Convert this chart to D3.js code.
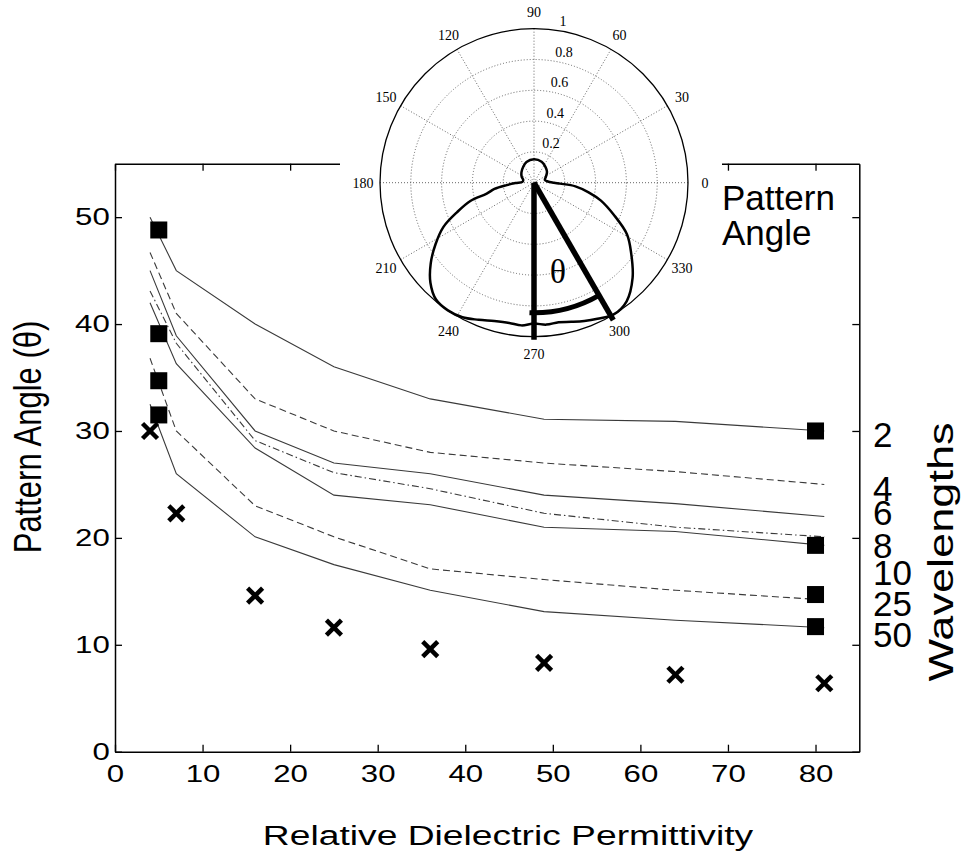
<!DOCTYPE html>
<html>
<head>
<meta charset="utf-8">
<script src="https://cdn.jsdelivr.net/npm/d3@7"></script>
<style>
  body { margin:0; background:#fff; }
  svg { display:block; }
  .sans { font-family: "Liberation Sans", Arial, Helvetica, sans-serif; }
  .serif { font-family: "Liberation Serif", "Times New Roman", serif; }
</style>
</head>
<body>
<div id="chart"></div>
<script>
// main plot data: relative permittivity vs pattern angle
var permX = [4, 7, 16, 25, 36, 49, 64, 81];
var wl2  = [50.0, 45.0, 40.0, 36.0, 33.0, 31.1, 30.9, 30.0];
var wl4  = [46.7, 41.0, 33.0, 30.0, 28.0, 27.0, 26.2, 25.0];
var wl6  = [45.0, 38.9, 30.0, 27.0, 26.0, 24.0, 23.2, 22.0];
var wl8  = [43.1, 38.2, 29.1, 26.1, 24.6, 22.3, 21.0, 20.1];
var wl10 = [42.0, 36.3, 28.4, 24.0, 23.1, 21.0, 20.6, 19.3];
var wl25 = [36.8, 30.0, 23.0, 20.1, 17.1, 16.1, 15.1, 14.2];
var wl50 = [32.5, 26.0, 20.1, 17.5, 15.1, 13.1, 12.3, 11.6];

// measured points
var squareLeftX = 5, squareLeftY = [48.8, 39.1, 34.7, 31.5];
var squareRightX = 80, squareRightY = [30.0, 19.3, 14.7, 11.7];
var crossX = [4, 7, 16, 25, 36, 49, 64, 81];
var crossY = [30.0, 22.3, 14.6, 11.6, 9.6, 8.3, 7.2, 6.4];

// right hand labels (value where each label sits)
var wlLabels = ["2", "4", "6", "8", "10", "25", "50"];
var wlLabelAt = [29.7, 24.6, 22.4, 19.3, 16.8, 13.9, 11.0];

var xTicks = [0, 10, 20, 30, 40, 50, 60, 70, 80];
var yTicks = [0, 10, 20, 30, 40, 50];

// polar inset
var polarAngleTicks = [0, 30, 60, 90, 120, 150, 180, 210, 240, 270, 300, 330];
var polarRadTicks = [0.2, 0.4, 0.6, 0.8, 1];
var patternDeg = [0, 5, 14, 27, 40, 55, 70, 90, 110, 124, 140, 154, 166, 176, 181, 185, 189, 193, 196, 201, 206, 212, 218, 224, 230, 236, 242, 248, 254, 260, 265, 270, 275, 280, 285, 290, 295, 301, 308, 316, 324, 331, 338, 345, 350, 355, 358];
var patternR = [0.13, 0.09, 0.073, 0.087, 0.11, 0.128, 0.145, 0.152, 0.143, 0.125, 0.106, 0.089, 0.072, 0.075, 0.12, 0.178, 0.26, 0.315, 0.43, 0.536, 0.654, 0.754, 0.851, 0.935, 0.99, 1.0, 0.99, 0.96, 0.935, 0.925, 0.93, 0.915, 0.925, 0.92, 0.935, 0.955, 0.975, 1.0, 0.977, 0.89, 0.78, 0.69, 0.56, 0.45, 0.36, 0.27, 0.17];
var thetaFrom = 270, thetaTo = 300;

var W = 962, H = 854;
var svg = d3.select('#chart').append('svg')
    .attr('width', W).attr('height', H);
svg.append('rect').attr('width', W).attr('height', H).attr('fill', '#fff');

var x = d3.scaleLinear().domain([0, 85]).range([115, 859.3]);
var y = d3.scaleLinear().domain([0, 55]).range([751.7, 163.7]);
var SX = 1.3; // the tick text in the figure is stretched sideways

var series = [
  {v: wl2,  dash: null},
  {v: wl4,  dash: '7,4'},
  {v: wl6,  dash: null},
  {v: wl8,  dash: '7,3,1.5,3'},
  {v: wl10, dash: null},
  {v: wl25, dash: '7,4'},
  {v: wl50, dash: null}
];

var line = d3.line()
    .x(function(d, i) { return x(permX[i]); })
    .y(function(d) { return y(d); });

svg.append('g').selectAll('path')
  .data(series)
  .enter().append('path')
    .attr('d', function(s) { return line(s.v); })
    .attr('fill', 'none')
    .attr('stroke', '#3a3a3a')
    .attr('stroke-width', 1.1)
    .attr('stroke-dasharray', function(s) { return s.dash; });

// squares
var sq = 17;
var squares = squareLeftY.map(function(v) { return [squareLeftX, v]; })
  .concat(squareRightY.map(function(v) { return [squareRightX, v]; }));
svg.append('g').selectAll('rect')
  .data(squares)
  .enter().append('rect')
    .attr('x', function(d) { return x(d[0]) - sq / 2; })
    .attr('y', function(d) { return y(d[1]) - sq / 2; })
    .attr('width', sq).attr('height', sq)
    .attr('fill', '#000');

// crosses
var cs = 7.5;
var crosses = svg.append('g').selectAll('g')
  .data(crossX.map(function(v, i) { return [v, crossY[i]]; }))
  .enter().append('g')
    .attr('transform', function(d) { return 'translate(' + x(d[0]) + ',' + y(d[1]) + ')'; });
crosses.append('line').attr('x1', -cs).attr('y1', -cs).attr('x2', cs).attr('y2', cs);
crosses.append('line').attr('x1', -cs).attr('y1', cs).attr('x2', cs).attr('y2', -cs);
crosses.selectAll('line').attr('stroke', '#000').attr('stroke-width', 4.5);

// axes, ticks inward on all four sides
function styleAxis(g) {
  g.select('.domain').attr('stroke', '#000').attr('stroke-width', 1.5);
  g.selectAll('.tick line').attr('stroke', '#000').attr('stroke-width', 1.3);
  g.selectAll('text').attr('fill', '#000');
}
var ax = svg.append('g').attr('class', 'sans').attr('font-size', 24);
ax.append('g')
  .attr('transform', 'translate(0,' + y(0) + ')')
  .call(d3.axisBottom(x).tickValues(xTicks).tickSizeInner(-7).tickSizeOuter(0).tickPadding(13))
  .call(styleAxis)
  .selectAll('text').attr('font-size', 24).attr('font-family', null)
    .attr('transform', 'scale(' + SX + ',1)');
ax.append('g')
  .attr('transform', 'translate(' + x(0) + ',0)')
  .call(d3.axisLeft(y).tickValues(yTicks).tickSizeInner(-7).tickSizeOuter(0).tickPadding(4))
  .call(styleAxis)
  .selectAll('text').attr('font-size', 24).attr('font-family', null)
    .attr('transform', 'scale(' + SX + ',1)');
ax.append('g')
  .attr('transform', 'translate(0,' + y(55) + ')')
  .call(d3.axisTop(x).tickValues(xTicks).tickSizeInner(-7).tickSizeOuter(0).tickFormat(''))
  .call(styleAxis);
ax.append('g')
  .attr('transform', 'translate(' + x(85) + ',0)')
  .call(d3.axisRight(y).tickValues(yTicks).tickSizeInner(-7).tickSizeOuter(0).tickFormat(''))
  .call(styleAxis);

// axis titles
svg.append('text').attr('class', 'sans')
  .attr('transform', 'translate(508,845) scale(1.33,1)')
  .attr('text-anchor', 'middle').attr('font-size', 28)
  .text('Relative Dielectric Permittivity');
svg.append('text').attr('class', 'sans')
  .attr('transform', 'translate(41,437) scale(1.25,1) rotate(-90)')
  .attr('text-anchor', 'middle').attr('font-size', 31)
  .text('Pattern Angle (\u03b8)');

// wavelength labels
svg.append('g').attr('class', 'sans').selectAll('text')
  .data(wlLabels)
  .enter().append('text')
    .attr('x', 873)
    .attr('y', function(d, i) { return y(wlLabelAt[i]); })
    .attr('dy', '0.36em')
    .attr('font-size', 35)
    .text(function(d) { return d; });
svg.append('text').attr('class', 'sans')
  .attr('transform', 'translate(953,552) scale(1,1.29) rotate(-90)')
  .attr('text-anchor', 'middle').attr('font-size', 35)
  .text('Wavelengths');

// white box of the inset hides part of the top border
svg.append('rect').attr('x', 340).attr('y', 0).attr('width', 382).attr('height', 175).attr('fill', '#fff');

// polar inset
var cx = 534, cy = 182.7, R = 154;
var r = d3.scaleLinear().domain([0, 1]).range([0, R]);
var polar = svg.append('g').attr('transform', 'translate(' + cx + ',' + cy + ')');
function pt(deg, rad) {
  var a = deg * Math.PI / 180;
  return [rad * Math.cos(a), -rad * Math.sin(a)];
}
polar.append('circle').attr('r', R).attr('fill', '#fff');
polar.selectAll('.ring')
  .data(polarRadTicks.slice(0, 4))
  .enter().append('circle')
    .attr('r', function(d) { return r(d); })
    .attr('fill', 'none').attr('stroke', '#555')
    .attr('stroke-width', 0.9).attr('stroke-dasharray', '1,2');
polar.selectAll('.spoke')
  .data(polarAngleTicks)
  .enter().append('line')
    .attr('x2', function(d) { return pt(d, R)[0]; })
    .attr('y2', function(d) { return pt(d, R)[1]; })
    .attr('stroke', '#555').attr('stroke-width', 0.9).attr('stroke-dasharray', '1,2');
polar.append('circle').attr('r', R).attr('fill', 'none')
  .attr('stroke', '#000').attr('stroke-width', 1.3);

polar.append('g').attr('class', 'serif').selectAll('text')
  .data(polarAngleTicks)
  .enter().append('text')
    .attr('x', function(d) { return pt(d, R * 1.11)[0]; })
    .attr('y', function(d) { return pt(d, R * 1.11)[1]; })
    .attr('dy', '0.35em')
    .attr('text-anchor', 'middle')
    .attr('font-size', 14)
    .text(function(d) { return d; });
polar.append('g').attr('class', 'serif').selectAll('text')
  .data(polarRadTicks)
  .enter().append('text')
    .attr('x', function(d) { return pt(82, r(d))[0] + 4; })
    .attr('y', function(d) { return pt(82, r(d))[1] - 4; })
    .attr('font-size', 14)
    .text(function(d) { return d; });

var radial = d3.lineRadial()
    .angle(function(d, i) { return (90 - patternDeg[i]) * Math.PI / 180; })
    .radius(function(d) { return r(d); })
    .curve(d3.curveCatmullRomClosed.alpha(0.5));
polar.append('path')
  .attr('d', radial(patternR))
  .attr('fill', 'none').attr('stroke', '#000').attr('stroke-width', 2.5);

// pattern angle marker
var endA = pt(thetaFrom, r(1.02)), endB = pt(thetaTo, r(1.03));
polar.append('line').attr('x2', endA[0]).attr('y2', endA[1])
  .attr('stroke', '#000').attr('stroke-width', 5.5);
polar.append('line').attr('x2', endB[0]).attr('y2', endB[1])
  .attr('stroke', '#000').attr('stroke-width', 5.5);
var arc = d3.arc()
  .innerRadius(r(0.845)).outerRadius(r(0.845))
  .startAngle((90 - thetaFrom + 2) * Math.PI / 180 + 2 * Math.PI)
  .endAngle((90 - thetaTo) * Math.PI / 180 + 2 * Math.PI);
polar.append('path').attr('d', arc())
  .attr('fill', 'none').attr('stroke', '#000').attr('stroke-width', 5);
polar.append('text').attr('class', 'serif')
  .attr('x', 24).attr('y', 100)
  .attr('text-anchor', 'middle').attr('font-size', 34)
  .text('\u03b8');

// inset caption
var cap = svg.append('text').attr('class', 'sans').attr('font-size', 35);
cap.append('tspan').attr('x', 722).attr('y', 210).text('Pattern');
cap.append('tspan').attr('x', 722).attr('y', 245).text('Angle');
</script>
</body>
</html>
